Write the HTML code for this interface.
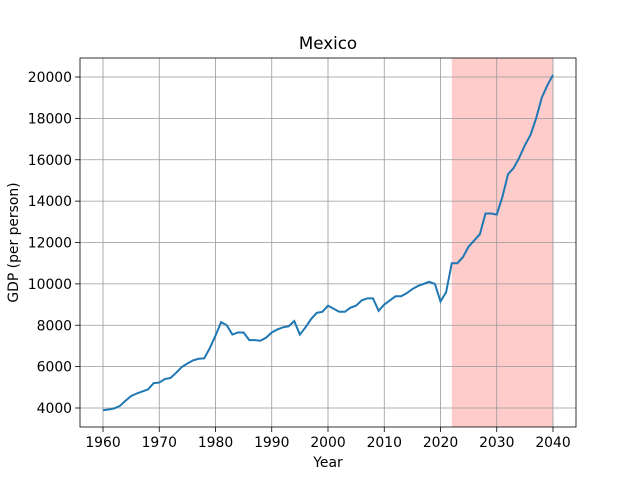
<!DOCTYPE html>
<html><head><meta charset="utf-8"><style>body{margin:0;background:#fff}svg{font-family:"DejaVu Sans","Liberation Sans",sans-serif}</style></head>
<body>
<svg id="c" width="640" height="480"></svg>
<script>
const years=[];for(let y=1960;y<=2040;y++)years.push(y);
const gdp=[3900,3930,3980,4100,4350,4580,4700,4800,4900,5200,5230,5400,5450,5700,5980,6150,6300,6380,6400,6900,7500,8150,8000,7550,7650,7650,7280,7280,7250,7400,7650,7800,7900,7950,8200,7550,7900,8300,8600,8650,8950,8800,8650,8650,8850,8950,9200,9300,9300,8700,9000,9200,9400,9400,9550,9750,9900,10000,10100,10000,9150,9600,11000,11000,11300,11800,12100,12400,13400,13400,13350,14200,15300,15600,16100,16700,17200,18000,19000,19600,20100];
const xTicks=[1960,1970,1980,1990,2000,2010,2020,2030,2040];
const yTicks=[4000,6000,8000,10000,12000,14000,16000,18000,20000];
const shade=[2022,2040];
const L=80,R=576,T=58,B=427;
const X=v=>103+(v-1960)*450/80;
const Y=v=>408-(v-4000)*331/16000;
const s=document.getElementById('c');const NS='http://www.w3.org/2000/svg';
function mk(t,a,txt){const e=document.createElementNS(NS,t);for(const k in a)e.setAttribute(k,a[k]);if(txt!==undefined)e.textContent=txt;s.appendChild(e);return e;}
let e=mk('rect',{x:X(shade[0]),y:T,width:X(shade[1])-X(shade[0]),height:B-T,fill:'#ffcccc'});


xTicks.forEach(t=>{const x=X(t);
e=mk('line',{x1:x,x2:x,y1:T,y2:B,stroke:'#999','stroke-width':0.8});

mk('line',{x1:x,x2:x,y1:B,y2:B+5,stroke:'#000','stroke-width':0.8});
e=mk('text',{x:x,y:B+20,'font-size':13.9,'text-anchor':'middle'},t);
});
yTicks.forEach(t=>{const y=Y(t);
e=mk('line',{x1:L,x2:R,y1:y,y2:y,stroke:'#999','stroke-width':0.8});

mk('line',{x1:L-5,x2:L,y1:y,y2:y,stroke:'#000','stroke-width':0.8});
e=mk('text',{x:L-8,y:y+5,'font-size':13.9,'text-anchor':'end'},t);
});
e=mk('polyline',{points:years.map((y,i)=>X(y)+','+Y(gdp[i])).join(' '),fill:'none',stroke:'#1f77b4','stroke-width':2});

e=mk('rect',{x:L,y:T,width:R-L,height:B-T,fill:'none',stroke:'#000','stroke-width':0.8});

e=mk('text',{x:(L+R)/2,y:49,'font-size':16.7,'text-anchor':'middle'},'Mexico');

e=mk('text',{x:(L+R)/2,y:467,'font-size':13.9,'text-anchor':'middle'},'Year');

e=mk('text',{x:18,y:(T+B)/2,'font-size':13.9,'text-anchor':'middle',transform:`rotate(-90 18 ${(T+B)/2})`},'GDP (per person)');

</script>
</body></html>
